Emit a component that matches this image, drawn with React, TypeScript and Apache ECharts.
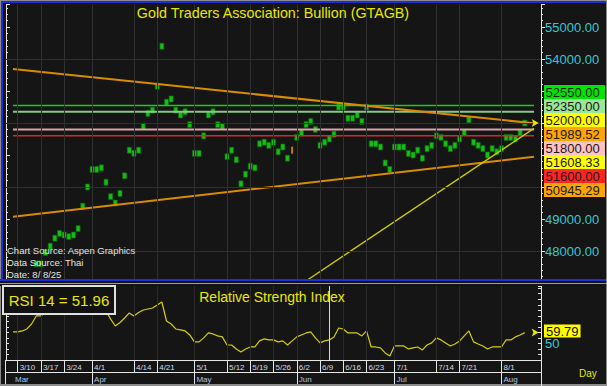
import React, { useEffect, useRef } from "react";
import * as echarts from "echarts";

// ---------- data ----------
const dates: string[] = [];
for (let d = new Date(2025, 2, 6); d <= new Date(2025, 7, 13); d.setDate(d.getDate() + 1)) {
  const w = d.getDay();
  if (w !== 0 && w !== 6) dates.push(`${d.getMonth() + 1}/${d.getDate()}`);
}

const price: (number | null)[] = [
  null, null, null, null, null, null,
  47600, 47600, 47950, 48150, 48400, 48550, 48500, 48450, 48500, 48700,
  49400, 50000, 50550, 50550, 50600, 50150, 49700, 49500, 49800, 50350,
  51150, 51050, 51150, 51900, 52300, 52400, 53150, 54400, 52650, 52750,
  52400, 52250, 52350, 51950, 51050, 51050, 51600, 52250, 52350, 51950,
  51900, 50950, 51150, 50850, 50100, 50400, 50650, 50600, 51350, 51400,
  51300, 51400, 51100, 51250, 50900, 51150, 51550, 51700, 51950, 52050,
  51800, 51300, 51400, 51500, 51650, 52500, 52500, 52150, 52150, 52250,
  52050, 52500, 51350, 51350, 51250, 50750, 50550, 51250, 51250, 51250,
  51050, 51000, 51150, 50900, 51200, 51300, 51600, 51550, 51350, 51200,
  51300, 51500, 51700, 52100, 51400, 51300, 51200, 51000, 51200, 51100,
  51200, 51550, 51550, 51500, 51700, 52000,
  null, null, null,
];
const unchangedDays = ["5/30"];

const rsi: (number | null)[] = [
  null,
  60.4, 60.4, 61.3, 63.1, 67.6, 74.9, 74.9, 78, 80, 82,
  83, 82, 81, 82, 83, 86, 88, 90, 90, 90,
  79.4, 72, 65.8, 69, 73, 77.6, 74.9, 78, 80.3, 81.2,
  82.1, 84.8, 87.5, 70.3, 67.6, 63.1, 62.2, 61.3, 57.7, 51.4,
  51.4, 55, 59.5, 58.6, 56.8, 55.9, 48.6, 48.6, 45, 42.3,
  45, 46.8, 46.8, 52.3, 54.1, 53.2, 53.2, 51.4, 52.3, 48.6,
  52.3, 55.9, 57.7, 59.5, 60.4, 55, 50.5, 52.3, 53.2, 55.9,
  64, 63.1, 59.5, 59.5, 59.5, 56.8, 61.3, 46.8, 46.8, 45.9,
  41.4, 38.7, 47.7, 47.7, 47.7, 45, 45.9, 46.8, 44.1, 48.6,
  50.5, 55, 53.2, 50.5, 47.7, 49.5, 52.3, 56.8, 61.3, 51.4,
  49.5, 47.7, 45, 46.8, 46.8, 46.8, 53.2, 53.2, 55.9, 57.7,
  59.79,
  null, null, null,
];
const rsiLast = 59.79;
const rsiBoxText = "RSI 14 = 51.96";

const gridDates = ["3/10", "3/17", "3/24", "4/1", "4/14", "4/21", "5/1", "5/12", "5/19", "5/26",
  "6/2", "6/9", "6/16", "6/23", "7/1", "7/14", "7/21", "8/1"];
const monthDates = ["3/7", "4/1", "5/1", "6/2", "7/1", "8/1"];
const monthNames = ["Mar", "Apr", "May", "Jun", "Jul", "Aug"];
const cursorDate = "6/11";

const hGrid = [54000, 52000, 50000, 48000];
const yTickLabels = [55000, 54000, 49000, 48000];

const levels = [52550, 52350, 51800, 51600];
const levelColors = ["#16d016", "#86c886", "#d8a4a4", "#d42a2a"];
const levelWidths = [1.5, 2, 2, 1.5];
const levelSpan = ["3/7", "8/12"];

const upperTrend: [string, number][] = [["3/7", 53688], ["8/12", 51989.52]];
const lowerTrend: [string, number][] = [["3/7", 49072], ["8/12", 50945.29]];
const yellowTrend: [string, number][] = [["6/3", 46970], ["8/12", 51834]];
const lastPrice = 52000;

const sideLabels = ["52550.00", "52350.00", "52000.00", "51989.52", "51800.00", "51608.33", "51600.00", "50945.29"];
const sideColors = ["#00e600", "#98e898", "#ffff00", "#ffa500", "#ffc2c2", "#ffff00", "#ff2424", "#ffa500"];

const titleText = "Gold Traders Association: Bullion (GTAGB)";
const sourceTexts = ["Chart Source: Aspen Graphics", "Data Source: Thai", "Date: 8/ 8/25"];

// ---------- styles ----------
const FONT = "Liberation Sans, Arial, sans-serif";
const BG = "#151515";
const WHITE = "#e6e6e6";
const CYAN = "#33c8d8";
const YELLOW = "#e8e800";
const BLUE = "#1c2ed4";
const GRIDC = "#303030";

function buildOption() {
  const priceData = price.map((v, i) => {
    if (v == null) return "-";
    if (unchangedDays.includes(dates[i]))
      return { value: v, symbolSize: [2, 7], itemStyle: { color: "#e89a00", borderWidth: 0 } };
    return v;
  });

  const series: any[] = [
    {
      type: "line", xAxisIndex: 0, yAxisIndex: 0, data: [], silent: true,
      markLine: {
        silent: true, symbol: ["none", "none"], label: { show: false },
        lineStyle: { color: GRIDC, width: 1, type: "solid" },
        data: [...gridDates.map((d) => ({ xAxis: d })), ...hGrid.map((v) => ({ yAxis: v }))],
      },
    },
    {
      type: "line", xAxisIndex: 1, yAxisIndex: 2, data: [], silent: true,
      markLine: {
        silent: true, symbol: ["none", "none"], label: { show: false },
        lineStyle: { color: "#2a2a2a", width: 1, type: "solid" },
        data: gridDates.map((d) => ({ xAxis: d })),
      },
    },
  ];

  levels.forEach((v, i) => {
    series.push({
      type: "line", xAxisIndex: 0, yAxisIndex: 0, symbol: "none", silent: true,
      data: levelSpan.map((d) => [d, v]),
      lineStyle: { color: levelColors[i], width: levelWidths[i] },
    });
  });

  [upperTrend, lowerTrend].forEach((t) => {
    series.push({
      type: "line", xAxisIndex: 0, yAxisIndex: 0, symbol: "none", silent: true, data: t,
      lineStyle: { color: "#d88c00", width: 2 },
    });
  });
  series.push({
    type: "line", xAxisIndex: 0, yAxisIndex: 0, symbol: "none", silent: true, data: yellowTrend, clip: true,
    lineStyle: { color: "#cdc800", width: 1.4 },
  });

  series.push({
    type: "scatter", xAxisIndex: 0, yAxisIndex: 0, data: priceData, symbol: "rect", symbolSize: [4, 6],
    itemStyle: { color: "#14e814", borderColor: "#0a6a0a", borderWidth: 0.8 },
    markPoint: {
      silent: true, symbol: "arrow", symbolSize: [6, 7], symbolRotate: -90, label: { show: false },
      itemStyle: { color: YELLOW },
      data: [{ coord: ["8/13", lastPrice] }],
    },
  });

  series.push({
    type: "line", xAxisIndex: 1, yAxisIndex: 2, data: rsi, symbol: "none",
    lineStyle: { color: "#d2cf00", width: 1.2 },
    markLine: {
      silent: true, symbol: ["none", "none"],
      data: [
        {
          yAxis: rsiLast, lineStyle: { width: 0, color: "rgba(0,0,0,0)" },
          label: {
            show: true, position: "end", distance: 3, formatter: rsiLast.toFixed(2), color: "#111",
            backgroundColor: "#ffff00", padding: [0, 2, 0, 2], fontSize: 13, lineHeight: 13, fontFamily: FONT,
            offset: [0, -1.5],
          },
        },
        { xAxis: cursorDate, lineStyle: { color: "#d8d8d8", width: 1, type: "solid" }, label: { show: false } },
      ],
    },
    markPoint: {
      silent: true, symbol: "arrow", symbolSize: [6, 7], symbolRotate: -90, label: { show: false },
      itemStyle: { color: YELLOW },
      data: [{ coord: ["8/13", rsiLast] }],
    },
  });

  const axisTickStyle = { color: WHITE, width: 1 };

  const graphics: any[] = [];
  // frame
  graphics.push(
    { type: "rect", z: 100, shape: { x: 0, y: 0, width: 607, height: 1 }, style: { fill: "#8c8c8c" } },
    { type: "rect", z: 100, shape: { x: 0, y: 1, width: 607, height: 2 }, style: { fill: BLUE } },
    { type: "rect", z: 100, shape: { x: 0, y: 0, width: 1, height: 386 }, style: { fill: "#8c8c8c" } },
    { type: "rect", z: 100, shape: { x: 1, y: 1, width: 2, height: 280 }, style: { fill: BLUE } },
    { type: "rect", z: 100, shape: { x: 0, y: 279, width: 607, height: 2 }, style: { fill: BLUE } },
    { type: "rect", z: 100, shape: { x: 0, y: 281, width: 607, height: 5 }, style: { fill: BG } },
    { type: "rect", z: 100, shape: { x: 0, y: 283, width: 607, height: 1 }, style: { fill: "#9a9a9a" } },
    { type: "rect", z: 100, shape: { x: 0, y: 384, width: 607, height: 2 }, style: { fill: "#8c8c8c" } },
    { type: "rect", z: 100, shape: { x: 606, y: 0, width: 1, height: 386 }, style: { fill: "#8c8c8c" } },
    { type: "line", z: 100, shape: { x1: 5.5, y1: 360, x2: 5.5, y2: 384 }, style: { stroke: WHITE, lineWidth: 1 } },
    { type: "line", z: 100, shape: { x1: 541.5, y1: 360, x2: 541.5, y2: 386 }, style: { stroke: WHITE, lineWidth: 1 } },
  );
  // title
  graphics.push({
    type: "text", z: 100, x: 273, y: 13,
    style: { text: titleText, fill: YELLOW, font: `14.3px ${FONT}`, textAlign: "center", textVerticalAlign: "middle" },
  });
  // source texts
  sourceTexts.forEach((t, i) => {
    graphics.push({
      type: "text", z: 100, x: 7, y: 250 + i * 12,
      style: { text: t, fill: "#e4e4e4", font: `9.5px ${FONT}`, textAlign: "left", textVerticalAlign: "middle" },
    });
  });
  // side labels
  sideLabels.forEach((t, i) => {
    graphics.push({
      type: "rect", z: 100, shape: { x: 544, y: 85 + i * 14, width: 61, height: 14 }, style: { fill: sideColors[i] },
    });
    graphics.push({
      type: "text", z: 101, x: 545.5, y: 92 + i * 14,
      style: { text: t, fill: "#1a1a1a", font: `13px ${FONT}`, textAlign: "left", textVerticalAlign: "middle" },
    });
  });
  // RSI box
  graphics.push(
    { type: "rect", z: 100, shape: { x: 3, y: 286, width: 112, height: 28 }, style: { fill: "#121212", stroke: "#e0e0e0", lineWidth: 2 } },
    {
      type: "text", z: 101, x: 59, y: 300.5,
      style: { text: rsiBoxText, fill: YELLOW, font: `15px ${FONT}`, textAlign: "center", textVerticalAlign: "middle" },
    },
    {
      type: "text", z: 100, x: 272, y: 296.5,
      style: { text: "Relative Strength Index", fill: YELLOW, font: `14px ${FONT}`, textAlign: "center", textVerticalAlign: "middle" },
    },
    {
      type: "text", z: 100, x: 579, y: 373,
      style: { text: "Day", fill: YELLOW, font: `10px ${FONT}`, textAlign: "left", textVerticalAlign: "middle" },
    },
  );

  return {
    animation: false,
    backgroundColor: BG,
    grid: [
      { left: 6, right: 66, top: 4.6, height: 278.4 },
      { left: 6, right: 66, top: 286, height: 74 },
    ],
    xAxis: [
      { type: "category", gridIndex: 0, data: dates, boundaryGap: true, show: false },
      {
        type: "category", gridIndex: 1, data: dates, boundaryGap: true,
        axisLine: { show: true, lineStyle: { color: WHITE } },
        axisTick: { show: true, alignWithLabel: true, length: 12, interval: (_i: number, v: string) => gridDates.includes(v), lineStyle: axisTickStyle },
        axisLabel: {
          show: true, interval: (_i: number, v: string) => gridDates.includes(v), align: "left", margin: 3,
          color: "#d4d8e6", fontSize: 8, fontFamily: FONT, padding: [0, 0, 0, 2],
        },
        splitLine: { show: false },
      },
      {
        type: "category", gridIndex: 1, data: dates, boundaryGap: true, position: "bottom", offset: 12,
        axisLine: { show: true, lineStyle: { color: WHITE } },
        axisTick: { show: true, alignWithLabel: true, length: 12, interval: (_i: number, v: string) => monthDates.slice(1).includes(v), lineStyle: axisTickStyle },
        axisLabel: {
          show: true, interval: (_i: number, v: string) => monthDates.includes(v), align: "left", margin: 3,
          color: "#a8c8f0", fontSize: 8, fontFamily: FONT, padding: [0, 0, 0, 2],
          formatter: (v: string) => monthNames[monthDates.indexOf(v)] ?? "",
        },
        splitLine: { show: false },
      },
      {
        type: "category", gridIndex: 1, data: dates, boundaryGap: true, position: "bottom", offset: 24,
        axisLine: { show: true, lineStyle: { color: WHITE } }, axisTick: { show: false }, axisLabel: { show: false },
      },
    ],
    yAxis: [
      {
        type: "value", gridIndex: 0, position: "right", min: 47000, max: 55700, interval: 1000,
        axisLine: { show: true, lineStyle: { color: WHITE } },
        axisTick: { show: true, length: 4, lineStyle: axisTickStyle },
        minorTick: { show: true, splitNumber: 5, length: 2, lineStyle: axisTickStyle },
        splitLine: { show: false },
        axisLabel: {
          margin: 4, color: CYAN, fontSize: 13, fontFamily: FONT,
          formatter: (v: number) => (yTickLabels.includes(v) ? v.toFixed(2) : ""),
        },
      },
      {
        type: "value", gridIndex: 0, position: "left", min: 47000, max: 55700, interval: 1000,
        axisLine: { show: true, lineStyle: { color: WHITE } },
        axisTick: { show: true, inside: true, length: 4, lineStyle: axisTickStyle },
        minorTick: { show: true, splitNumber: 5, length: 2, lineStyle: axisTickStyle },
        splitLine: { show: false }, axisLabel: { show: false },
      },
      {
        type: "value", gridIndex: 1, position: "right", min: 35, max: 102, interval: 5,
        axisLine: { show: true, lineStyle: { color: WHITE } },
        axisTick: { show: true, inside: true, length: 3, lineStyle: axisTickStyle },
        splitLine: { show: false },
        axisLabel: {
          margin: 4, color: CYAN, fontSize: 13, lineHeight: 12, fontFamily: FONT, padding: [7, 0, 0, 0],
          formatter: (v: number) => (v === 50 ? "50" : ""),
        },
      },
      {
        type: "value", gridIndex: 1, position: "left", min: 35, max: 102, interval: 5,
        axisLine: { show: true, lineStyle: { color: WHITE } },
        axisTick: { show: true, inside: true, length: 3, lineStyle: axisTickStyle },
        splitLine: { show: false }, axisLabel: { show: false },
      },
    ],
    series,
    graphic: { elements: graphics },
  };
}

export default function App() {
  const ref = useRef<HTMLDivElement>(null);
  useEffect(() => {
    if (!ref.current) return;
    const chart = echarts.init(ref.current, undefined, { renderer: "svg" });
    chart.setOption(buildOption() as any);
    return () => chart.dispose();
  }, []);
  return <div ref={ref} style={{ position: "fixed", left: 0, top: 0, width: 607, height: 386 }} />;
}
